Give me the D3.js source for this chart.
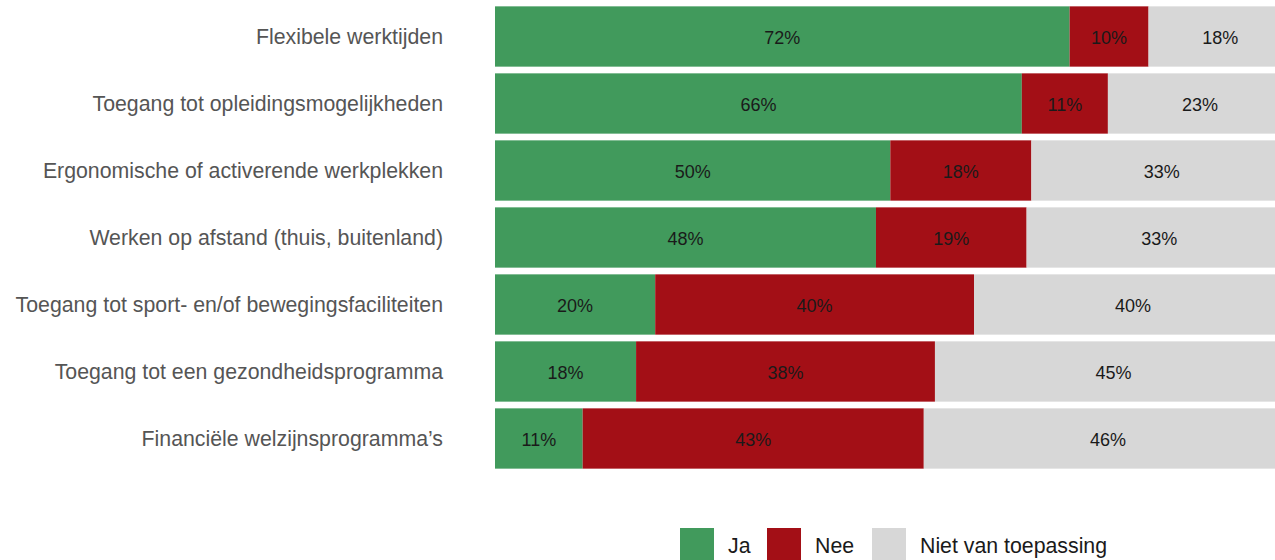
<!DOCTYPE html>
<html>
<head>
<meta charset="utf-8">
<script src="https://cdn.jsdelivr.net/npm/d3@7"></script>
<style>
	body { margin: 0; background: #fff; }
	svg { display: block; font-family: "Liberation Sans", Arial, sans-serif; }
</style>
</head>
<body>
<div id="graph"></div>
<script>
// categories, top to bottom
const categories = [
	"Flexibele werktijden",
	"Toegang tot opleidingsmogelijkheden",
	"Ergonomische of activerende werkplekken",
	"Werken op afstand (thuis, buitenland)",
	"Toegang tot sport- en/of bewegingsfaciliteiten",
	"Toegang tot een gezondheidsprogramma",
	"Financiële welzijnsprogramma’s",
];
const series = ["Ja", "Nee", "Niet van toepassing"];
// percentages
const ja = [72.1, 66.1, 49.6, 47.8, 20.1, 17.7, 11.0];
const nee = [9.9, 10.8, 17.7, 18.9, 40.0, 37.5, 42.8];
const niet = [18.0, 23.1, 32.7, 33.3, 39.9, 44.8, 46.2];
const colors = ["#419a5c", "#a30f16", "#d7d7d7"];

const width = 1275;
const height = 560;
const marginLeft = 495;
const plotRight = 1292; // bars run past the picture edge

const rows = categories.map((c, i) => ({ cat: c, Ja: ja[i], Nee: nee[i], "Niet van toepassing": niet[i] }));
const stacked = d3.stack().keys(series)(rows);

const x = d3.scaleLinear([0, 100], [marginLeft, plotRight]);
const y = d3.scaleBand(categories, [3, 472]).paddingInner(0.1).paddingOuter(0.05);
const color = d3.scaleOrdinal(series, colors);

const svg = d3
	.select("#graph")
	.append("svg")
	.attr("width", width)
	.attr("height", height)
	.attr("viewBox", [0, 0, width, height]);

const layer = svg
	.append("g")
	.selectAll("g")
	.data(stacked)
	.join("g")
	.attr("fill", (d) => color(d.key));

layer
	.selectAll("rect")
	.data((d) => d)
	.join("rect")
	.attr("x", (d) => x(d[0]))
	.attr("y", (d) => y(d.data.cat))
	.attr("width", (d) => x(d[1]) - x(d[0]))
	.attr("height", y.bandwidth());

layer
	.selectAll("text")
	.data((d) => d)
	.join("text")
	.attr("x", (d) => (x(d[0]) + x(d[1])) / 2)
	.attr("y", (d) => y(d.data.cat) + y.bandwidth() / 2 + 1)
	.attr("dy", "0.35em")
	.attr("text-anchor", "middle")
	.attr("font-size", 18)
	.attr("fill", "#1a1a1a")
	.text((d) => Math.round(d[1] - d[0]) + "%");

// category axis
const yAxis = d3.axisLeft(y).tickSize(0).tickPadding(0);
svg
	.append("g")
	.attr("transform", `translate(443,1)`)
	.call(yAxis)
	.call((g) => g.select(".domain").remove())
	.call((g) =>
		g
			.selectAll("text")
			.attr("font-size", 21.3)
			.attr("font-family", "Liberation Sans, Arial, sans-serif")
			.attr("fill", "#555")
	);

// legend
const legendX = [680, 767, 872];
const legend = svg
	.append("g")
	.selectAll("g")
	.data(series)
	.join("g")
	.attr("transform", (d, i) => `translate(${legendX[i]},528)`);

legend
	.append("rect")
	.attr("width", 34)
	.attr("height", 34)
	.attr("fill", (d) => color(d));

legend
	.append("text")
	.attr("x", 48)
	.attr("y", 18)
	.attr("dy", "0.35em")
	.attr("font-size", 21.3)
	.attr("fill", "#1a1a1a")
	.text((d) => d);
</script>
</body>
</html>
